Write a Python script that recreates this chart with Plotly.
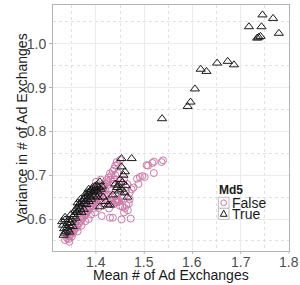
import plotly.graph_objects as go

# ---- data ----
true_x = [
    1.745, 1.767, 1.717, 1.743, 1.779, 1.734, 1.741, 1.737,
    1.651, 1.673, 1.686, 1.617, 1.629, 1.605, 1.596, 1.590, 1.537,
    1.333, 1.335, 1.338, 1.334, 1.340, 1.343, 1.345, 1.341, 1.348, 1.350,
    1.336, 1.330, 1.343, 1.352, 1.355, 1.358, 1.360, 1.357, 1.360, 1.363,
    1.365, 1.368, 1.366, 1.370, 1.372, 1.375, 1.373, 1.377, 1.378, 1.380,
    1.382, 1.379, 1.383, 1.385, 1.387, 1.388, 1.390, 1.392, 1.385, 1.393,
    1.396, 1.398, 1.400, 1.401, 1.404, 1.408, 1.406, 1.410, 1.395, 1.390,
    1.398, 1.403, 1.412, 1.380, 1.370, 1.375, 1.385, 1.368, 1.362, 1.348,
    1.352, 1.345, 1.332, 1.336,
    1.453, 1.474, 1.453, 1.460, 1.457, 1.450, 1.455, 1.462, 1.453, 1.448,
    1.444, 1.459, 1.465, 1.440, 1.429, 1.408, 1.420, 1.435, 1.415, 1.446,
    1.425, 1.401,
]
true_y = [
    1.066, 1.058, 1.039, 1.039, 1.024, 1.013, 1.017, 1.015,
    0.956, 0.960, 0.952, 0.942, 0.937, 0.897, 0.867, 0.857, 0.829,
    0.563, 0.568, 0.572, 0.578, 0.580, 0.575, 0.585, 0.590, 0.592, 0.598,
    0.604, 0.594, 0.598, 0.605, 0.610, 0.602, 0.615, 0.620, 0.625, 0.618,
    0.628, 0.622, 0.635, 0.632, 0.640, 0.636, 0.645, 0.648, 0.641, 0.652,
    0.645, 0.658, 0.660, 0.655, 0.662, 0.650, 0.667, 0.660, 0.668, 0.672,
    0.665, 0.675, 0.670, 0.677, 0.662, 0.685, 0.672, 0.668, 0.652, 0.645,
    0.655, 0.650, 0.675, 0.633, 0.615, 0.622, 0.640, 0.645, 0.637, 0.610,
    0.583, 0.570, 0.586, 0.598,
    0.738, 0.738, 0.719, 0.708, 0.700, 0.690, 0.684, 0.676, 0.668, 0.664,
    0.672, 0.660, 0.650, 0.680, 0.632, 0.628, 0.640, 0.655, 0.650, 0.677,
    0.632, 0.666,
]

false_x = [
    1.336, 1.340, 1.343, 1.345, 1.348, 1.350, 1.353, 1.355, 1.358, 1.360,
    1.362, 1.365, 1.367, 1.370, 1.372, 1.375, 1.377, 1.380, 1.382, 1.384,
    1.386, 1.388, 1.390, 1.392, 1.394, 1.396, 1.398, 1.400, 1.402, 1.404,
    1.406, 1.408, 1.410, 1.412, 1.414, 1.416, 1.418, 1.420, 1.422, 1.424,
    1.426, 1.429, 1.432, 1.435, 1.438, 1.443, 1.440, 1.446, 1.450,
    1.539, 1.536, 1.517, 1.520, 1.505, 1.508, 1.520, 1.501, 1.496, 1.485,
    1.491, 1.488, 1.474, 1.478, 1.470,
    1.412, 1.429, 1.435, 1.453, 1.472, 1.466, 1.463, 1.454, 1.436, 1.427,
    1.444, 1.443, 1.446, 1.441, 1.445, 1.448, 1.442, 1.450, 1.458, 1.460,
    1.455, 1.430, 1.420, 1.425, 1.415, 1.405, 1.398, 1.390, 1.385, 1.378,
    1.370, 1.362, 1.350, 1.345,
    1.430, 1.435, 1.440, 1.445, 1.428, 1.432, 1.420, 1.415, 1.410, 1.405,
    1.398, 1.400, 1.438, 1.448, 1.452, 1.458, 1.465, 1.462, 1.470, 1.468,
    1.440, 1.432, 1.425, 1.418, 1.380, 1.375, 1.368, 1.360, 1.355, 1.352,
    1.340, 1.395, 1.410, 1.400,
]
false_y = [
    0.552, 0.556, 0.554, 0.560, 0.565, 0.570, 0.568, 0.575, 0.580, 0.585,
    0.582, 0.590, 0.595, 0.598, 0.602, 0.606, 0.610, 0.612, 0.618, 0.620,
    0.625, 0.628, 0.632, 0.636, 0.630, 0.640, 0.645, 0.642, 0.650, 0.655,
    0.648, 0.658, 0.662, 0.668, 0.660, 0.672, 0.676, 0.680, 0.689, 0.684,
    0.695, 0.704, 0.700, 0.710, 0.715, 0.730, 0.722, 0.725, 0.735,
    0.734, 0.730, 0.728, 0.731, 0.723, 0.722, 0.705, 0.696, 0.698, 0.692,
    0.696, 0.680, 0.668, 0.672, 0.660,
    0.607, 0.603, 0.603, 0.599, 0.601, 0.620, 0.632, 0.647, 0.633, 0.624,
    0.639, 0.643, 0.641, 0.645, 0.646, 0.640, 0.638, 0.630, 0.615, 0.625,
    0.628, 0.640, 0.645, 0.655, 0.635, 0.625, 0.615, 0.610, 0.600, 0.595,
    0.585, 0.572, 0.560, 0.548,
    0.690, 0.680, 0.700, 0.705, 0.670, 0.665, 0.665, 0.680, 0.690, 0.675,
    0.665, 0.685, 0.690, 0.680, 0.670, 0.690, 0.680, 0.665, 0.645, 0.635,
    0.655, 0.650, 0.640, 0.655, 0.625, 0.615, 0.605, 0.595, 0.590, 0.580,
    0.562, 0.625, 0.640, 0.632,
]

x_ticks = [1.4, 1.5, 1.6, 1.7, 1.8]
y_ticks = [0.6, 0.7, 0.8, 0.9, 1.0]

PINK = "#CC79A7"
FONT = "Liberation Sans, Arial, sans-serif"
TICKC = "#b3b3b3"

fig = go.Figure()
fig.add_trace(go.Scatter(
    x=false_x, y=false_y, mode="markers", name="False",
    marker=dict(symbol="circle-open", size=7, color=PINK, line=dict(width=1, color=PINK)),
    showlegend=False))
fig.add_trace(go.Scatter(
    x=true_x, y=true_y, mode="markers", name="True",
    marker=dict(symbol="triangle-up-open", size=8, color="#1a1a1a", line=dict(width=1, color="#1a1a1a")),
    showlegend=False))

axis_common = dict(
    showline=True, linecolor=TICKC, linewidth=1, mirror=True,
    gridcolor="#ebebeb", gridwidth=1, zeroline=False, automargin=False,
    tickfont=dict(size=14, color="#4d4d4d", family=FONT),
    minor=dict(showgrid=True, gridcolor="#e0e0e0", griddash="dot", gridwidth=1, ticks=""),
)

fig.update_xaxes(range=[1.311, 1.8], tickvals=x_ticks, showticklabels=False,
                 ticks="", minor_dtick=0.05, minor_tick0=1.35, **axis_common)
fig.update_yaxes(range=[0.527, 1.0886], tickvals=y_ticks, ticktext=[f"{v:.1f}" for v in y_ticks],
                 ticks="outside", ticklen=3, tickcolor=TICKC,
                 minor_dtick=0.05, minor_tick0=0.55, **axis_common)

# pixel layout -> paper coordinates
L, R, T, B = 53, 289, 5, 251
def px(xp):
    return (xp - L) / (R - L)
def py(yp):
    return (B - yp) / (B - T)

shapes = []
# short outside tick marks on the x axis (at the tick values)
for v in x_ticks:
    shapes.append(dict(type="line", xref="x", yref="paper", x0=v, x1=v, y0=0, y1=py(B + 3),
                       line=dict(color=TICKC, width=1)))
# manual legend
for top in (197.3, 208.3):
    shapes.append(dict(type="rect", xref="paper", yref="paper",
                       x0=px(218.3), x1=px(229), y0=py(top + 11), y1=py(top),
                       line=dict(color="#bdbdbd", width=1), fillcolor="white", layer="above"))
shapes.append(dict(type="circle", xref="paper", yref="paper",
                   x0=px(220.8), x1=px(226.6), y0=py(205.7), y1=py(199.9),
                   line=dict(color=PINK, width=1), layer="above"))
shapes.append(dict(type="path", xref="paper", yref="paper",
                   path=f"M {px(223.7)},{py(210.2)} L {px(227.1)},{py(216.3)} L {px(220.3)},{py(216.3)} Z",
                   line=dict(color="#1a1a1a", width=1), layer="above"))

annotations = [
    dict(text="<b>Md5</b>", xref="paper", yref="paper", x=px(217), y=py(190),
         xanchor="left", yanchor="middle", showarrow=False,
         font=dict(size=12, color="#1a1a1a", family=FONT)),
    dict(text="False", xref="paper", yref="paper", x=px(230), y=py(202.5),
         xanchor="left", yanchor="middle", showarrow=False,
         font=dict(size=14, color="#1a1a1a", family=FONT)),
    dict(text="True", xref="paper", yref="paper", x=px(230), y=py(214),
         xanchor="left", yanchor="middle", showarrow=False,
         font=dict(size=14, color="#1a1a1a", family=FONT)),
    dict(text="Mean # of Ad Exchanges", xref="paper", yref="paper", x=0.5, y=py(275),
         xanchor="center", yanchor="middle", showarrow=False,
         font=dict(size=14, color="#1a1a1a", family=FONT)),
    dict(text="Variance in # of Ad Exchanges", xref="paper", yref="paper", x=px(22), y=py(128),
         xanchor="center", yanchor="middle", textangle=-90, showarrow=False,
         font=dict(size=14, color="#1a1a1a", family=FONT)),
]
# x tick labels placed just under the axis
for v in x_ticks:
    annotations.append(dict(text=f"{v:.1f}", xref="x", yref="paper", x=v, y=py(261.5),
                            xanchor="center", yanchor="middle", showarrow=False,
                            font=dict(size=14, color="#4d4d4d", family=FONT)))

fig.update_layout(
    width=300, height=285,
    margin=dict(l=L, r=300 - R, t=T, b=285 - B),
    paper_bgcolor="white", plot_bgcolor="white",
    shapes=shapes, annotations=annotations,
    font=dict(family=FONT),
)

fig.write_html("out.html", config={"displayModeBar": False},
               post_script="document.body.style.margin='0';document.body.style.overflow='hidden';")
